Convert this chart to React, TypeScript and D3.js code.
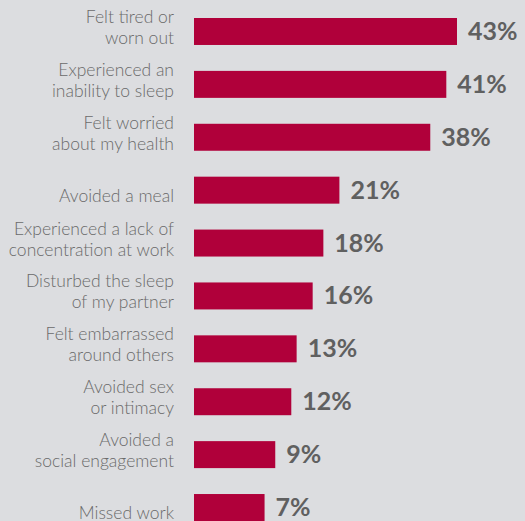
import React, { useEffect, useRef } from "react";
import * as d3 from "d3";

const categories = [
  "Felt tired or\nworn out",
  "Experienced an\ninability to sleep",
  "Felt worried\nabout my health",
  "Avoided a meal",
  "Experienced a lack of\nconcentration at work",
  "Disturbed the sleep\nof my partner",
  "Felt embarrassed\naround others",
  "Avoided sex\nor intimacy",
  "Avoided a\nsocial engagement",
  "Missed work",
];

const values = [43, 41, 38, 21, 18, 16, 13, 12, 9, 7];

const width = 525;
const height = 521;

const BarChart: React.FC = () => {
  const svgRef = useRef<SVGSVGElement>(null);

  useEffect(() => {
    if (!svgRef.current) return;
    const svg = d3.select(svgRef.current);
    svg.selectAll("*").remove();

    svg
      .append("rect")
      .attr("width", width)
      .attr("height", height)
      .attr("fill", "#dcdde0");

    // bars in the original don't start at zero, so the domain is offset a bit
    const xScale = d3.scaleLinear().domain([-6.2, 43]).range([194, 457]);

    const yScale = d3
      .scaleBand<string>()
      .domain(categories)
      .range([18, 521])
      .paddingInner(0.49)
      .paddingOuter(0);

    const data = categories.map((c, i) => ({ label: c, value: values[i] }));

    const rows = svg
      .selectAll("g.row")
      .data(data)
      .enter()
      .append("g")
      .attr("class", "row")
      .attr("transform", (d) => `translate(0,${yScale(d.label)})`);

    rows
      .append("rect")
      .attr("x", xScale(-6.2))
      .attr("y", 0)
      .attr("width", (d) => xScale(d.value) - xScale(-6.2))
      .attr("height", yScale.bandwidth())
      .attr("fill", "#b0003a");

    const mid = yScale.bandwidth() / 2;

    rows
      .append("text")
      .attr("x", (d) => xScale(d.value) + 11)
      .attr("y", mid + 8.5)
      .attr("font-family", "Lato, sans-serif")
      .attr("font-weight", 700)
      .attr("font-size", 25)
      .attr("fill", "#606060")
      .text((d) => `${d.value}%`);

    const labels = rows
      .append("text")
      .attr("text-anchor", "end")
      .attr("font-family", "Lato, sans-serif")
      .attr("font-weight", 300)
      .attr("font-size", 17.5)
      .attr("fill", "#6a6a6a");

    labels.each(function (d) {
      const lines = d.label.split("\n");
      const t = d3.select(this);
      const baselines = lines.length === 2 ? [mid - 8.5, mid + 12.5] : [mid + 11.5];
      lines.forEach((line, i) => {
        t.append("tspan").attr("x", 174).attr("y", baselines[i]).text(line);
      });
    });
  }, []);

  return <svg ref={svgRef} width={width} height={height}></svg>;
};

export default function App() {
  return (
    <div style={{ position: "absolute", left: 0, top: 0 }}>
      <BarChart />
    </div>
  );
}
